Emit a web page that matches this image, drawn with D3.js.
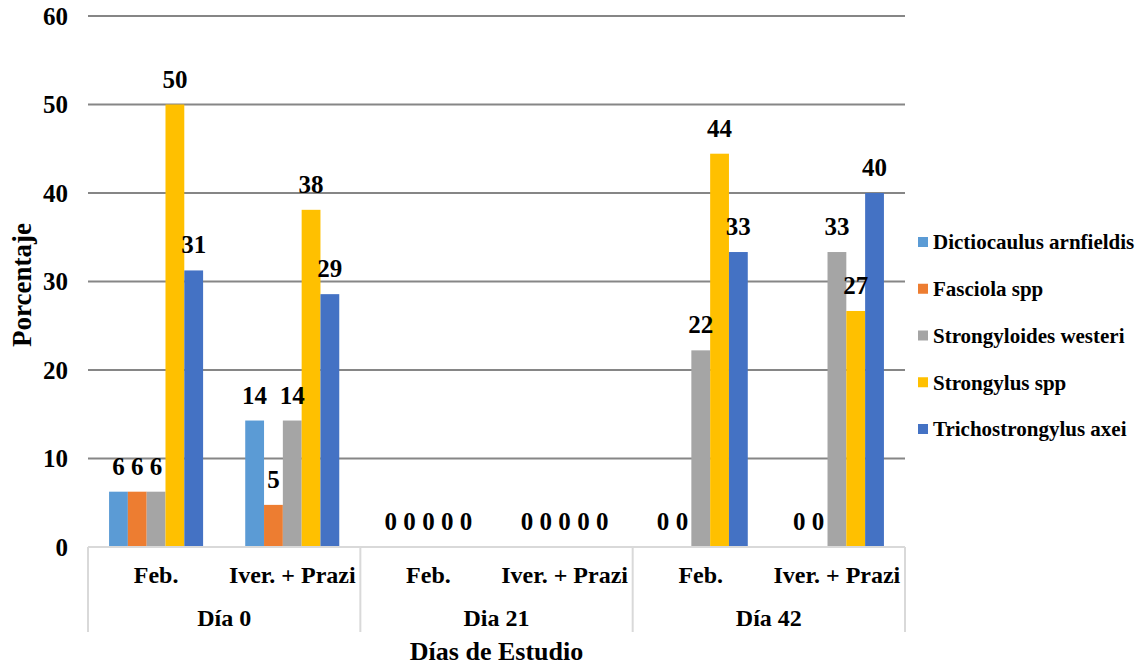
<!DOCTYPE html>
<html>
<head>
<meta charset="utf-8">
<script src="https://cdn.jsdelivr.net/npm/d3@7"></script>
<style>
  html, body { margin: 0; padding: 0; background: #fff; }
  svg { display: block; font-family: "Liberation Serif", "Times New Roman", serif; font-weight: bold; }
</style>
</head>
<body>
<svg id="chart" width="1143" height="667"></svg>
<script>
// Study days (outer axis level) and treatments (inner axis level)
const days = ["Día 0", "Dia 21", "Día 42"];
const treatments = ["Feb.", "Iver. + Prazi"];

// Parasite species shown in the legend
const species = [
  "Dictiocaulus arnfieldis",
  "Fasciola spp",
  "Strongyloides westeri",
  "Strongylus spp",
  "Trichostrongylus axei"
];
const colors = ["#5B9BD5", "#ED7D31", "#A5A5A5", "#FFC000", "#4472C4"];

// Percentage per species, one entry per day/treatment column
const dictiocaulus   = [6.25, 14.29, 0, 0, 0, 0];
const fasciola       = [6.25, 4.76, 0, 0, 0, 0];
const strongyloides  = [6.25, 14.29, 0, 0, 22.22, 33.33];
const strongylus     = [50, 38.1, 0, 0, 44.44, 26.67];
const trichostrongylus = [31.25, 28.57, 0, 0, 33.33, 40];

const yTicks = [0, 10, 20, 30, 40, 50, 60];

const seriesValues = [dictiocaulus, fasciola, strongyloides, strongylus, trichostrongylus];

// Column keys combine the day and treatment
const columns = [];
days.forEach(d => treatments.forEach(t => columns.push({ day: d, treatment: t, key: d + "|" + t })));

const svg = d3.select("#chart");
const plotLeft = 88, plotRight = 905, plotTop = 16, plotBottom = 547;

const x0 = d3.scaleBand().domain(columns.map(c => c.key)).range([plotLeft, plotRight]);
const x1 = d3.scaleBand().domain(species).range([0, x0.bandwidth()]).paddingOuter(1.12).paddingInner(0);
const y = d3.scaleLinear().domain([0, 60]).range([plotBottom, plotTop]);
const dayScale = d3.scaleBand().domain(days).range([plotLeft, plotRight]);

// Horizontal gridlines
svg.append("g")
  .selectAll("line")
  .data(yTicks.filter(t => t > 0))
  .join("line")
  .attr("x1", plotLeft).attr("x2", plotRight)
  .attr("y1", d => y(d)).attr("y2", d => y(d))
  .attr("stroke", "#868686").attr("stroke-width", 2);

// Y-axis tick labels
svg.append("g")
  .selectAll("text")
  .data(yTicks)
  .join("text")
  .attr("x", 68).attr("y", d => y(d)).attr("dy", "0.35em")
  .attr("text-anchor", "end")
  .attr("font-size", 25)
  .text(d => d);

// Bars
const barGroups = svg.append("g")
  .selectAll("g")
  .data(columns.map((c, i) => ({ col: c, vals: seriesValues.map((s, k) => ({ sp: species[k], v: s[i], c: colors[k] })) })))
  .join("g")
  .attr("transform", d => `translate(${x0(d.col.key)},0)`);

barGroups.selectAll("rect")
  .data(d => d.vals)
  .join("rect")
  .attr("x", d => x1(d.sp))
  .attr("width", x1.bandwidth())
  .attr("y", d => y(d.v))
  .attr("height", d => y(0) - y(d.v))
  .attr("fill", d => d.c);

// Value labels above each bar (drawn after all bars so they sit on top)
const fmt = d3.format(".0f");
const labelLayer = svg.append("g");
columns.forEach((c, i) => {
  labelLayer.append("g")
    .attr("transform", `translate(${x0(c.key)},0)`)
    .selectAll("text")
    .data(seriesValues.map((s, k) => ({ sp: species[k], v: s[i] })))
    .join("text")
    .attr("x", d => x1(d.sp) + x1.bandwidth() / 2)
    .attr("y", d => y(d.v) - 17)
    .attr("text-anchor", "middle")
    .attr("font-size", 25)
    .text(d => fmt(d.v));
});

// Category axis: baseline and group separators
const axisG = svg.append("g").attr("stroke", "#d9d9d9").attr("stroke-width", 2);
axisG.append("line").attr("x1", plotLeft).attr("x2", plotRight).attr("y1", plotBottom).attr("y2", plotBottom);
axisG.selectAll("line.sep")
  .data([plotLeft].concat(days.map(d => dayScale(d) + dayScale.bandwidth())))
  .join("line")
  .attr("class", "sep")
  .attr("x1", d => d).attr("x2", d => d)
  .attr("y1", plotBottom).attr("y2", 632);

// Treatment labels
svg.append("g")
  .selectAll("text")
  .data(columns)
  .join("text")
  .attr("x", d => x0(d.key) + x0.bandwidth() / 2)
  .attr("y", 583)
  .attr("text-anchor", "middle")
  .attr("font-size", 24)
  .text(d => d.treatment);

// Day labels
svg.append("g")
  .selectAll("text")
  .data(days)
  .join("text")
  .attr("x", d => dayScale(d) + dayScale.bandwidth() / 2)
  .attr("y", 626)
  .attr("text-anchor", "middle")
  .attr("font-size", 24)
  .text(d => d);

// Axis titles
svg.append("text")
  .attr("x", (plotLeft + plotRight) / 2).attr("y", 660)
  .attr("text-anchor", "middle")
  .attr("font-size", 26)
  .text("Días de Estudio");

svg.append("text")
  .attr("transform", "translate(31,285) rotate(-90)")
  .attr("text-anchor", "middle")
  .attr("font-size", 27)
  .text("Porcentaje");

// Legend
const legendY = d3.scalePoint().domain(species).range([242, 429]);
const legend = svg.append("g")
  .selectAll("g")
  .data(species)
  .join("g")
  .attr("transform", d => `translate(918,${legendY(d)})`);
legend.append("rect")
  .attr("x", 0).attr("y", -5).attr("width", 10).attr("height", 10)
  .attr("fill", (d, i) => colors[i]);
legend.append("text")
  .attr("x", 15).attr("dy", "0.35em")
  .attr("font-size", 21)
  .text(d => d);
</script>
</body>
</html>
